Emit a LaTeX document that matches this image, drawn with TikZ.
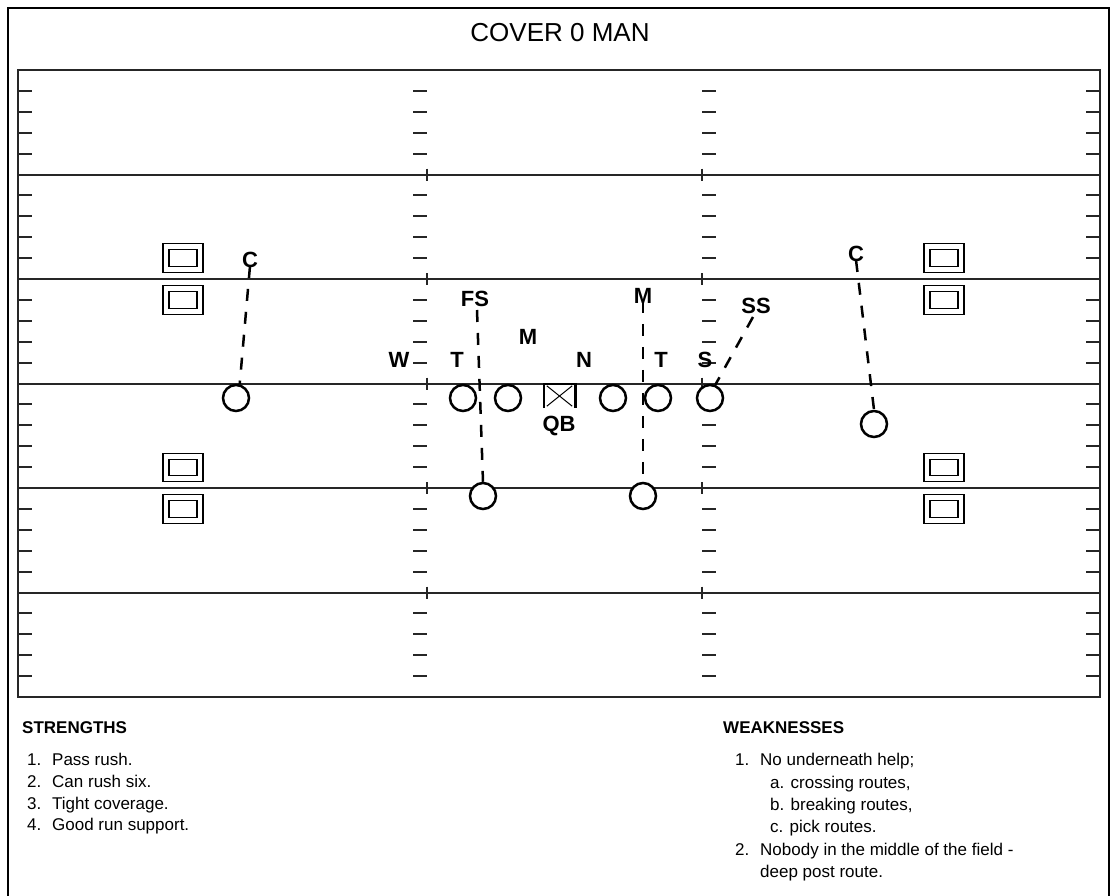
\documentclass[tikz,border=0pt]{standalone}
\usepackage{fontspec}
\setmainfont{Liberation Sans}
\begin{document}
\begin{tikzpicture}[x=1pt,y=-1pt,
  fieldline/.style={line width=2pt, draw=black!85},
  hashmark/.style={line width=2pt, draw=black!85},
  player/.style={circle, draw, fill=white, line width=2.5pt, minimum size=26pt, inner sep=0pt},
  lbl/.style={inner sep=0pt, font=\bfseries\fontsize{22}{26}\selectfont},
  cover/.style={line width=2.5pt, dash pattern=on 12pt off 11pt},
  markbox/.style={draw, double, line width=1.4pt, double distance=4.6pt, minimum width=34pt, minimum height=22.5pt, inner sep=0pt},
  item/.style={anchor=base west, inner sep=0pt, font=\fontsize{17}{20}\selectfont},
  head/.style={anchor=base west, inner sep=0pt, font=\fontsize{17}{20}\selectfont\bfseries}
]
\useasboundingbox (0,0) rectangle (1117,895);
\fill[white] (0,0) rectangle (1117,895);
% outer frame
\draw[line width=2.8pt] (8,896) -- (8,8) -- (1109,8) -- (1109,896);
% title
\node[inner sep=0pt, font=\fontsize{26}{30}\selectfont] (title) at (560,33) {COVER 0 MAN};
% field
\draw[fieldline] (18,70) rectangle (1100,697);
\foreach \s in {1,...,5} {
  \draw[fieldline] (18,70+104.5*\s) -- (1100,70+104.5*\s);
  \draw[hashmark] (427,70+104.5*\s-6) -- (427,70+104.5*\s+6);
  \draw[hashmark] (702,70+104.5*\s-6) -- (702,70+104.5*\s+6);
}
\foreach \s in {0,...,5} {
  \foreach \k in {1,...,4} {
    \pgfmathsetmacro\yy{70+104.5*\s+20.9*\k}
    \draw[hashmark] (18,\yy) -- (32,\yy);
    \draw[hashmark] (413,\yy) -- (427,\yy);
    \draw[hashmark] (702,\yy) -- (716,\yy);
    \draw[hashmark] (1086,\yy) -- (1100,\yy);
  }
}
% receiver boxes
\node[markbox] (bl1) at (183,258) {};
\node[markbox] (bl2) at (183,300) {};
\node[markbox] (bl3) at (183,467.5) {};
\node[markbox] (bl4) at (183,509) {};
\node[markbox] (br1) at (944,258) {};
\node[markbox] (br2) at (944,300) {};
\node[markbox] (br3) at (944,467.5) {};
\node[markbox] (br4) at (944,509) {};
% offensive players
\node[player] (pl) at (236,398) {};
\node[player] (t1) at (463,398) {};
\node[player] (g1) at (508,398) {};
\node[player] (g2) at (613,398) {};
\node[player] (t2) at (658,398) {};
\node[player] (ps) at (710,398) {};
\node[player] (pr) at (874,424) {};
\node[player] (b1) at (483,496) {};
\node[player] (b2) at (643,496) {};
% QB
\node[minimum width=31pt, minimum height=24pt, inner sep=0pt] (qb) at (559.5,396) {};
\draw[line width=2.6pt] (qb.south west) -- (qb.north west) -- (qb.north east) -- (qb.south east);
\draw[line width=1pt] ([shift={(3,2)}]qb.north west) -- ([shift={(-3,-2)}]qb.south east);
\draw[line width=1pt] ([shift={(-3,2)}]qb.north east) -- ([shift={(3,-2)}]qb.south west);
\node[lbl] (qbl) at (559,426) {QB};
% defenders
\node[lbl] (cl) at (250,260) {C};
\node[lbl] (cr) at (856,254) {C};
\node[lbl] (fs) at (475,299) {FS};
\node[lbl] (mm) at (528,337) {M};
\node[lbl] (mr) at (643,296) {M};
\node[lbl] (w) at (399,360) {W};
\node[lbl] (tl) at (457,360) {T};
\node[lbl] (n) at (584,360) {N};
\node[lbl] (tr) at (661,360) {T};
\node[lbl] (s) at (705,360) {S};
\node[lbl] (ss) at (756,306) {SS};
% man coverage
\draw[cover] ([yshift=2]cl.south) -- (pl.75);
\draw[cover] ([yshift=2]cr.south) -- (pr.north);
\draw[cover] ([shift={(2,3)}]fs.south) -- (b1.north);
\draw[cover] ([yshift=3]mr.south) -- (b2.north);
\draw[cover] ([shift={(-3,3)}]ss.south) -- (ps.68);
% strengths
\node[head] (sh) at (22,733) {STRENGTHS};
\node[item] (s1) at (27,765) {\makebox[25pt][l]{1.}Pass rush.};
\node[item] (s2) at (27,787) {\makebox[25pt][l]{2.}Can rush six.};
\node[item] (s3) at (27,809) {\makebox[25pt][l]{3.}Tight coverage.};
\node[item] (s4) at (27,830) {\makebox[25pt][l]{4.}Good run support.};
% weaknesses
\node[head] (wh) at (723,733) {WEAKNESSES};
\node[item] (w1) at (735,765) {\makebox[25pt][l]{1.}No underneath help;};
\node[item] (wa) at (770,788) {a. crossing routes,};
\node[item] (wb) at (770,810) {b. breaking routes,};
\node[item] (wc) at (770,832) {c. pick routes.};
\node[item] (w2) at (735,855) {\makebox[25pt][l]{2.}Nobody in the middle of the field -};
\node[item] (w3) at (760,877) {deep post route.};
\end{tikzpicture}
\end{document}
